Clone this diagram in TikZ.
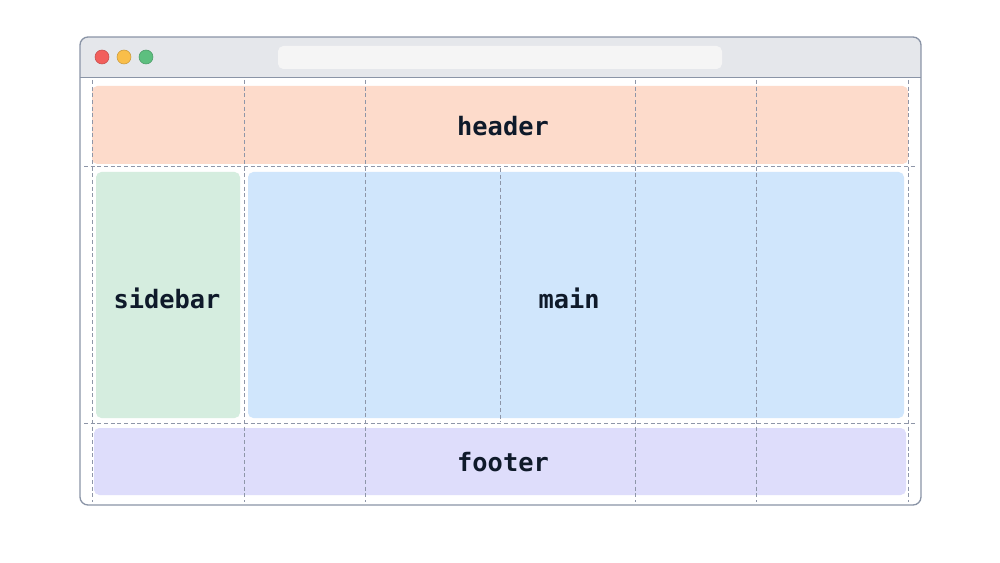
\documentclass[tikz,border=0pt]{standalone}
\usepackage{fontspec}
\setmonofont{DejaVu Sans Mono}
\begin{document}
\begin{tikzpicture}[x=0.75pt,y=-0.75pt,
  area/.style={draw=none,rounded corners=4pt},
  lbl/.style={font=\ttfamily\bfseries\fontsize{19}{21}\selectfont,text=txt},
  grid/.style={draw=gridc,dash pattern=on 3pt off 2pt,line width=0.6pt},
  dot/.style={circle,minimum size=10.5pt,inner sep=0pt,line width=0.4pt}]
\useasboundingbox (0,0) rectangle (1000,563);
\definecolor{hdr}{HTML}{FDDBCB}
\definecolor{sbr}{HTML}{D5EDDF}
\definecolor{mn}{HTML}{D0E6FC}
\definecolor{ftr}{HTML}{DEDDFB}
\definecolor{frame}{HTML}{8A94A6}
\definecolor{bar}{HTML}{E5E7EB}
\definecolor{gridc}{HTML}{8E96A8}
\definecolor{txt}{HTML}{0F1A2A}
\definecolor{dr}{HTML}{F25F5C}
\definecolor{dy}{HTML}{F9BE4A}
\definecolor{dg}{HTML}{5DBF7F}
% window
\fill[white,rounded corners=6pt] (80,37) rectangle (921,505);
\begin{scope}
\clip[rounded corners=6pt] (80,37) rectangle (921,505);
\fill[bar] (80,37) rectangle (921,77);
\end{scope}
\draw[frame,line width=0.6pt] (80,77) -- (921,77);
\draw[frame,line width=1pt,rounded corners=6pt] (80,37) rectangle (921,505);
\node[dot,fill=dr,draw=dr!80!black] (d1) at (102,57) {};
\node[dot,fill=dy,draw=dy!80!black] (d2) at (124,57) {};
\node[dot,fill=dg,draw=dg!80!black] (d3) at (146,57) {};
\fill[gray!8,rounded corners=4pt] (278,46) rectangle (722,69);
% areas
\fill[area,hdr] (92,86) rectangle (908,164);
\fill[area,sbr] (96,172) rectangle (240,418);
\fill[area,mn] (248,172) rectangle (904,418);
\fill[area,ftr] (94,428) rectangle (906,495);
% grid
\foreach \x in {92,244,365,635,756,908} \draw[grid] (\x,80) -- (\x,502);
\draw[grid] (500,168) -- (500,422);
\draw[grid] (84,166) -- (916,166);
\draw[grid] (84,423) -- (916,423);
% labels
\node[lbl] (header) at (503,126) {header};
\node[lbl] (sidebar) at (167,298) {sidebar};
\node[lbl] (main) at (569,298) {main};
\node[lbl] (footer) at (503,462) {footer};
\end{tikzpicture}
\end{document}
